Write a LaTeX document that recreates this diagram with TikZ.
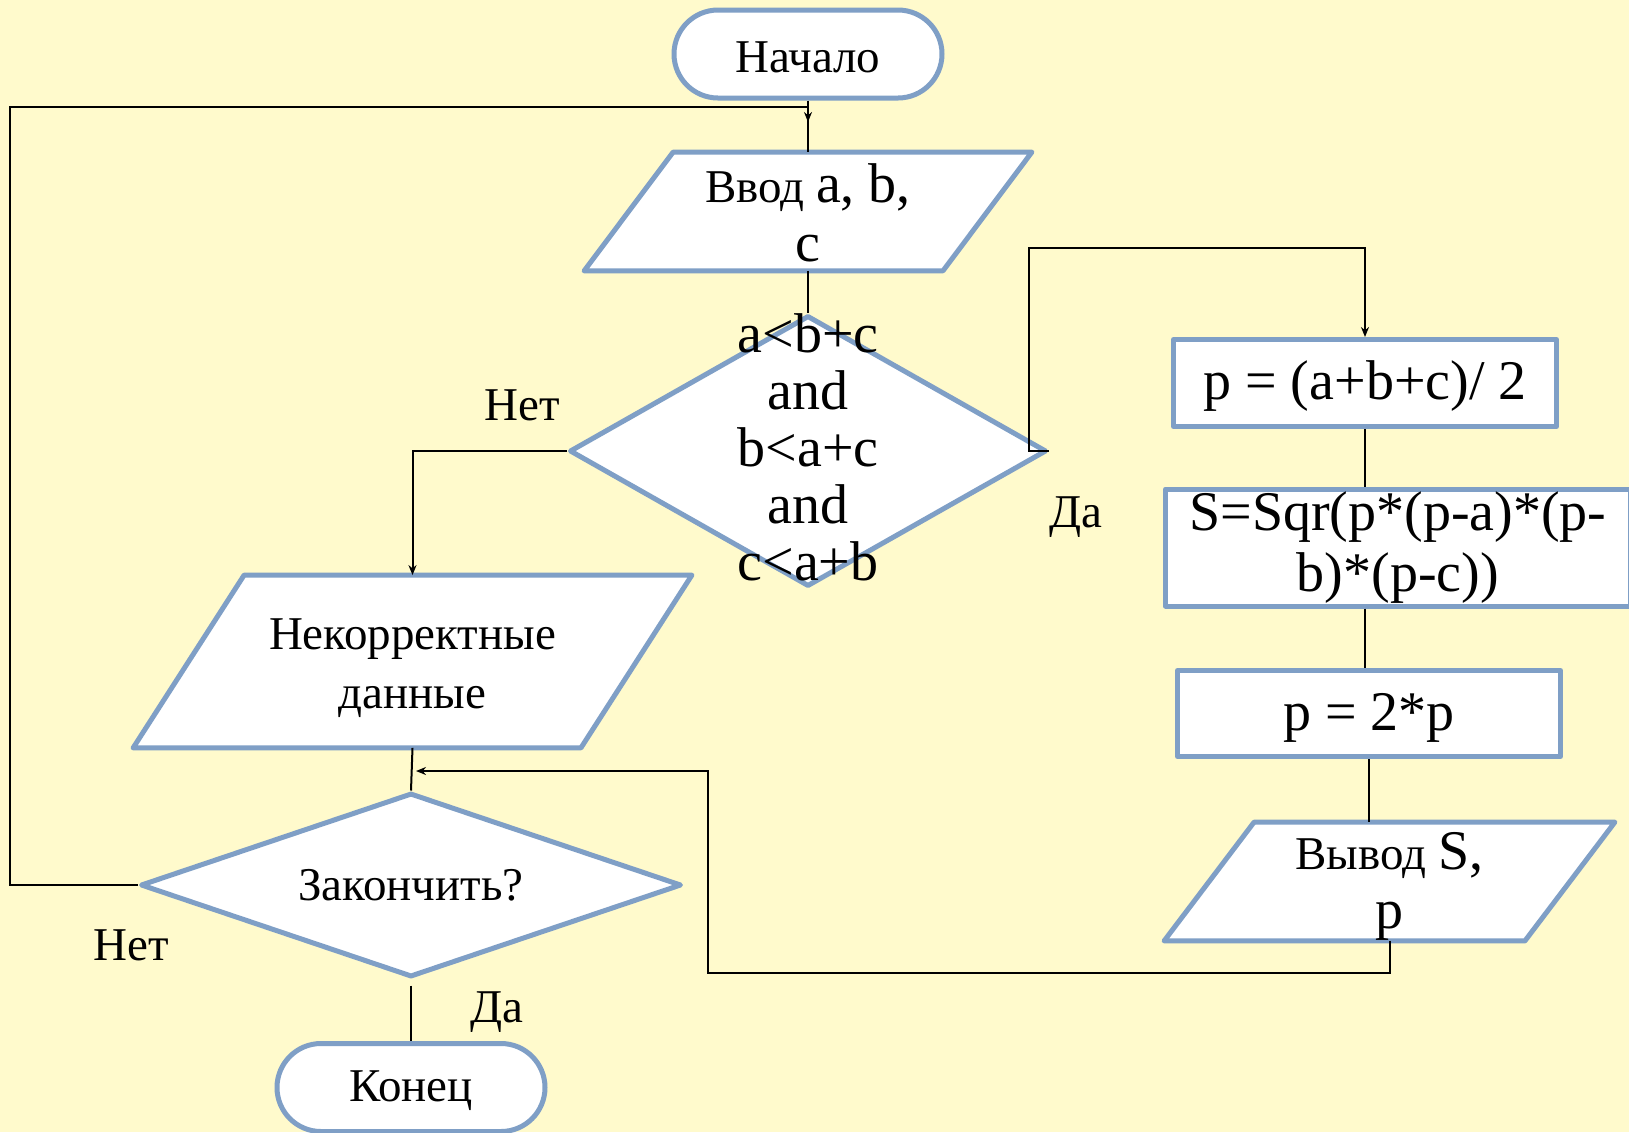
\documentclass[tikz,border=0pt]{standalone}
\usepackage{fontspec}
\setmainfont{Liberation Serif}
\usetikzlibrary{shapes.geometric,arrows.meta,backgrounds}
\definecolor{fonbg}{RGB}{255,250,204}
\definecolor{ramka}{RGB}{127,159,198}
\newcommand{\lat}[1]{{\fontsize{28}{29}\selectfont #1}}
\newcommand{\iobox}[4]{\parbox[c][#1][c]{#2}{\centering\vspace{#3}#4}}
\newcommand{\ioshape}[2]{\path[block] ([xshift=#2]#1.north west) -- (#1.north east)
  -- ([xshift=-#2]#1.south east) -- (#1.south west) -- cycle;}

\begin{document}
\begin{tikzpicture}[x=0.5pt,y=-0.5pt,
  block/.style={draw=ramka,line width=2.5pt,line join=round,fill=white,inner sep=0pt,align=center},
  term/.style={block,rectangle,rounded corners=22pt,minimum width=134pt,minimum height=44pt,text height=19pt,font=\fontsize{23.5}{29}\selectfont},
  io/.style={rectangle,inner sep=0pt,font=\fontsize{23.5}{29.5}\selectfont},
  proc/.style={block,rectangle,minimum width=191.5pt,font=\fontsize{28}{30.5}\selectfont},
  decision/.style={block,diamond},
  lbl/.style={font=\fontsize{23.5}{29}\selectfont},
  line/.style={draw=black,line width=1pt},
  arr/.style={line,-{Stealth[length=5pt,width=4pt]}}]
\useasboundingbox (0,0) rectangle (1629,1132);

\node[term] (start) at (808,54) {Начало};
\node[io] (input) at (808,211.5) {\iobox{59pt}{223.5pt}{1pt}{Ввод \lat{a, b,}\\\lat{c}}};
\node[decision,minimum width=238.5pt,minimum height=135.5pt] (cond) at (808,451) {};
\node[align=center,font=\fontsize{28}{28.5}\selectfont,inner sep=0pt] (condtext) at (808,447)
  {a<b+c\\and\\b<a+c\\and\\c<a+b};
\node[io] (err) at (412.5,661.5) {\iobox{86pt}{279pt}{7pt}{Некорректные\\данные}};
\node[decision,minimum width=270.5pt,minimum height=92pt] (finish) at (411,885) {};
\node[lbl] (finishtext) at (411,885) {Закончить?};
\node[term] (stop) at (411,1087.5) {Конец};

\node[proc,minimum height=43.5pt,text height=22.5pt] (half) at (1365,383) {p = (a+b+c)/ 2};
\node[proc,minimum width=232.5pt,minimum height=58.5pt] (area) at (1398,547.5) {S=Sqr(p*(p-a)*(p-\\b)*(p-c))};
\node[proc,minimum height=43pt,text height=22.5pt] (double) at (1369,713.5) {p = 2*p};
\node[io] (output) at (1389.5,881.5) {\iobox{59pt}{225pt}{5pt}{Вывод \lat{S,}\\\lat{p}}};

\begin{pgfonlayer}{background}
\fill[fonbg] (0,0) rectangle (1629,1132);
\ioshape{input}{44.5pt}
\ioshape{err}{55.5pt}
\ioshape{output}{45pt}
\end{pgfonlayer}

\node[lbl] (no1) at (522,405) {Нет};
\node[lbl] (yes1) at (1076,517) {Да};
\node[lbl] (no2) at (131,945) {Нет};
\node[lbl] (yes2) at (497,1012) {Да};

\coordinate (loopin) at (808,122);
\coordinate (loopcorner) at (10,107);
\coordinate (yesturn) at (1029,248);
\coordinate (back) at (708,973);
\coordinate (merge) at (416,771);

\draw[line] (start.south) -- (input.north);
\draw[arr] (finish.west) -| (loopcorner) -| (loopin);
\draw[line] (input.south) -- (cond.north);
\draw[arr] (cond.west) -| (err.north);
\draw[arr] (cond.east) -| (yesturn) -| (half.north);
\draw[line] (half.south) -- (half.south |- area.north);
\draw[line] (area.south -| half.south) -- (double.north -| half.south);
\draw[line] (double.south) -- (double.south |- output.north);
\draw[arr] (output.south) |- (back) |- (merge);
\draw[line] (err.south) -- (finish.north);
\draw[line] ([yshift=-3pt]finish.south) -- (stop.north);
\end{tikzpicture}
\end{document}
